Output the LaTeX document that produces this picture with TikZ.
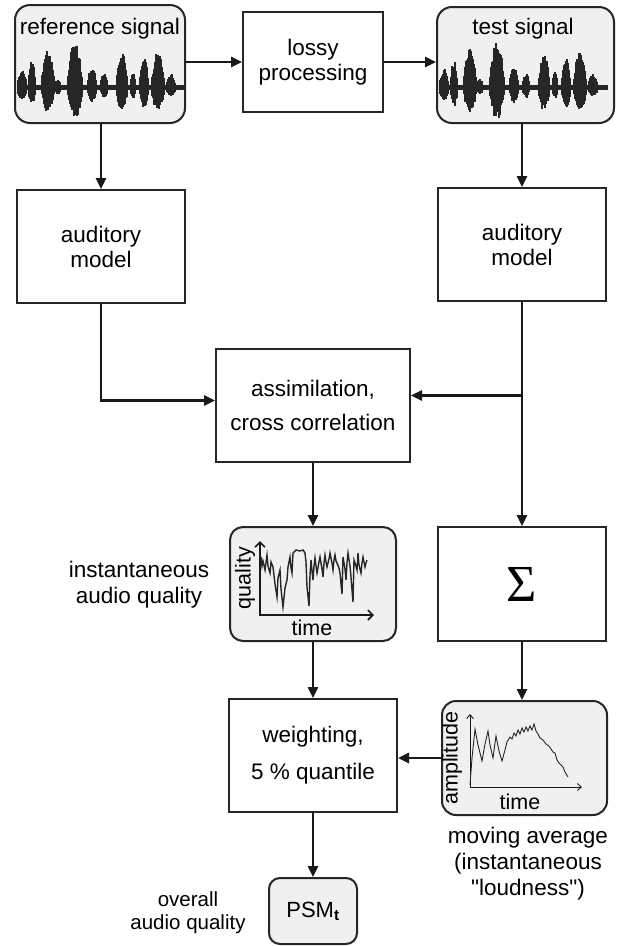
\documentclass[tikz,border=0pt]{standalone}
\usepackage{fontspec}
\setmainfont{Liberation Sans}[Ligatures=TeXOff]
\newfontfamily\sigmafont{Liberation Serif}
\usetikzlibrary{arrows.meta}
\tikzstyle{arrow} = [line width=2.5pt, draw=black!90, -{Triangle[length=11pt,width=10pt]}]
\tikzstyle{block} = [rectangle, draw=black!85, line width=2pt, inner sep=0pt, align=center, font=\fontsize{22.5}{25}\selectfont]
\tikzstyle{signal} = [block, rounded corners=15pt, fill=black!6]
\tikzstyle{caption} = [align=center, inner sep=0pt, font=\fontsize{22.5}{26}\selectfont]
\tikzstyle{plotlabel} = [inner sep=0pt, font=\fontsize{21.5}{22}\selectfont]
\tikzstyle{axis} = [line width=1.6pt, draw=black!90, {Straight Barb[length=5pt,width=10pt]}-{Straight Barb[length=5pt,width=10pt]}]
\tikzstyle{thinaxis} = [line width=0.9pt, draw=black!90, {Straight Barb[length=4pt,width=7pt]}-{Straight Barb[length=4pt,width=7pt]}]
\tikzstyle{wave} = [line width=1.6pt, draw=black!85]

\begin{document}
\begin{tikzpicture}[x=1pt, y=-1pt,
    declare function={
      wbump(\t,\c,\a,\w)=\a*max(0,1-((\t-\c)/\w)^2);
      env(\t)=3.5+wbump(\t,22,16,5)+wbump(\t,32,25,4)+wbump(\t,48,36,7)+wbump(\t,58,7,3)
              +wbump(\t,75,44,8)+wbump(\t,92,19,5)+wbump(\t,104,12,4)+wbump(\t,122,32,6)
              +wbump(\t,133,13,3)+wbump(\t,144,28,5)+wbump(\t,158,33,7)+wbump(\t,171,11,5);
    }]
    \useasboundingbox (0,0) rectangle (619,946);

    % signals and processing
    \node (ref) [signal, minimum width=170pt, minimum height=118pt] at (100,64) {};
    \node (lossy) [block, minimum width=140pt, minimum height=100pt] at (313,62) {lossy\\processing};
    \node (test) [signal, minimum width=177pt, minimum height=116pt] at (525.5,65) {};
    \node (reflabel) [plotlabel, font=\fontsize{22.5}{25}\selectfont] at (100,29) {reference signal};
    \node (testlabel) [plotlabel, font=\fontsize{22.5}{25}\selectfont] at (523,29) {test signal};

    % speech waveforms
    \pgfmathsetseed{11}
    \foreach \dx in {0,422} {
        \foreach \i in {18,...,185} {
            \pgfmathsetmacro{\up}{env(\i)*(0.72+0.28*rnd)}
            \pgfmathsetmacro{\dn}{0.68*env(\i)*(0.65+0.35*rnd)}
            \draw [wave] (\i+\dx,88-\up) -- (\i+\dx,88+\dn);
        }
    }

    % auditory models
    \node (audL) [block, minimum width=168pt, minimum height=113pt] at (101,246.5) {auditory\\model};
    \node (audR) [block, minimum width=168pt, minimum height=113pt] at (522,244.5) {auditory\\model};
    \node (assim) [block, minimum width=194pt, minimum height=113pt, font=\fontsize{22.5}{34}\selectfont] at (313,405.5) {assimilation,\\cross correlation};

    % instantaneous quality
    \node (qual) [signal, rounded corners=13pt, minimum width=166pt, minimum height=114pt] at (313,584) {};
    \node (sigma) [block, minimum width=168pt, minimum height=114pt, font=\fontsize{52}{52}\sigmafont] at (522,584) {Σ};
    \draw [axis] (260,541) -- (260,615) -- (374,615);
    \node (qlabel) [plotlabel, rotate=90] at (245,578) {quality};
    \node (qtime) [plotlabel] at (312,628) {time};
    \draw [line width=1.4pt, black!85] plot coordinates {
        (261,557) (262,566) (263,561) (265,570) (267,555) (268,566) (270,573) (271,562)
        (273,567) (275,584) (277,597) (278,578) (280,570) (281,589) (283,607) (285,588)
        (287,580) (288,567) (290,557) (291,568) (292,573) (293,553) (296,550) (300,551)
        (303,550) (305,553) (306,562) (307,587) (309,606) (310,575) (311,560) (312,571)
        (313,580) (314,566) (315,558) (316,566) (317,573) (319,562) (320,557) (322,569)
        (323,577) (324,563) (325,555) (326,562) (327,567) (329,559) (330,553) (332,563)
        (333,570) (334,560) (335,555) (336,561) (337,563) (339,568) (340,573) (341,584)
        (342,594) (343,557) (345,569) (346,580) (347,563) (348,553) (350,566) (351,577)
        (352,590) (353,602) (354,560) (356,566) (357,570) (358,553) (359,565) (361,573)
        (362,563) (363,557) (364,562) (365,567) (366,563) (367,560)};

    % weighting and loudness
    \node (weight) [block, minimum width=168pt, minimum height=113pt, font=\fontsize{22.5}{37}\selectfont] at (313,755.5) {weighting,\\5 \% quantile};
    \node (amp) [signal, rounded corners=14pt, minimum width=165pt, minimum height=114pt] at (524.5,758) {};
    \draw [thinaxis] (470,714) -- (470,787) -- (582,787);
    \node (alabel) [plotlabel, rotate=90] at (452,758) {amplitude};
    \node (atime) [plotlabel] at (520,802) {time};
    \draw [line width=0.9pt, black!85] plot coordinates {
        (470,785) (472,758) (475,729) (478,745) (482,761) (485,744) (488,731) (490,745)
        (493,758) (496,736) (499,751) (502,761) (505,750) (507,742) (510,737) (512,739)
        (514,733) (516,736) (518,730) (520,734) (522,728) (524,732) (526,727) (528,731)
        (530,726) (532,730) (534,724) (536,731) (538,734) (540,738) (543,740) (546,744)
        (549,746) (551,749) (553,752) (555,753) (557,760) (559,763) (561,765) (563,767)
        (565,772) (568,777)};

    % overall result
    \node (psm) [signal, rounded corners=11pt, minimum width=88pt, minimum height=66pt, font=\fontsize{22}{25}\selectfont] at (313,911) {PSM\textsubscript{\textbf{t}}};

    % captions
    \node (instq) [caption] at (139,585) {instantaneous\\audio quality};
    \node (movavg) [caption] at (528,864) {moving average\\(instantaneous\\"loudness")};
    \node (overall) [caption, font=\fontsize{20.5}{23}\selectfont] at (188,913) {overall\\audio quality};

    % connectors
    \coordinate (branch) at ([yshift=10pt]assim.east -| audR.south);
    \draw [arrow] (ref.east |- lossy) -- (lossy.west);
    \draw [arrow] (lossy.east) -- (lossy.east -| test.west);
    \draw [arrow] (ref.south -| audL) -- (audL.north);
    \draw [arrow] (test.south -| audR) -- (audR.north);
    \draw [arrow] (audL.south) |- ([yshift=5pt]assim.west);
    \draw [arrow] (audR.south) -- (sigma.north);
    \draw [arrow] (branch) -- (branch -| assim.east);
    \draw [arrow] (assim) -- (qual);
    \draw [arrow] (qual) -- (weight);
    \draw [arrow] (sigma) -- (sigma |- amp.north);
    \draw [arrow] (amp.west) -- (amp.west -| weight.east);
    \draw [arrow] (weight) -- (psm);
\end{tikzpicture}
\end{document}
